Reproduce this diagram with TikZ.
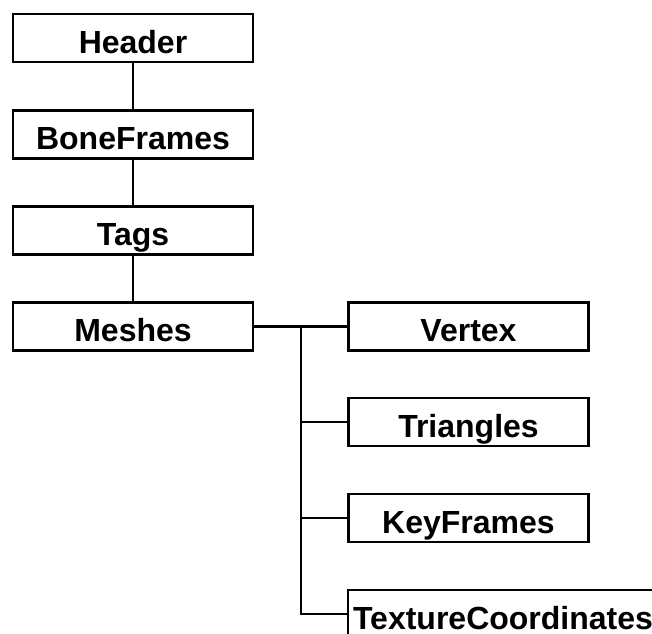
\documentclass[tikz,border=0pt]{standalone}
\usepackage{fontspec}
\setmainfont{Liberation Sans}
\usepackage{tikz}
\usetikzlibrary{positioning}

\begin{document}
\begin{tikzpicture}[x=1pt, y=-1pt, line width=2.4pt,
    chunk/.style={draw, rectangle, minimum width=240pt, minimum height=48pt, inner sep=0pt,
                  text height=30pt, text depth=0pt,
                  font=\fontsize{32}{38}\selectfont\bfseries}]
    \useasboundingbox (0,0) rectangle (652,633);
    \clip (0,0) rectangle (652,633);

    \node[chunk] (header) at (133,38) {Header};
    \node[chunk] (boneframes) at (133,134.5) {BoneFrames};
    \node[chunk] (tags) at (133,230.5) {Tags};
    \node[chunk] (meshes) at (133,326.5) {Meshes};

    \node[chunk] (vertex) at (468.5,326.5) {Vertex};
    \node[chunk] (triangles) at (468.5,422) {Triangles};
    \node[chunk] (keyframes) at (468.5,518) {KeyFrames};
    \node[chunk, minimum width=310pt] (texture) at (503,614) {TextureCoordinates};

    \draw (header) -- (boneframes);
    \draw (boneframes) -- (tags);
    \draw (tags) -- (meshes);

    \coordinate (split) at (301,326.5);
    \draw (meshes.east) -- (vertex.west);
    \draw (split) |- (texture.west);
    \draw (split |- triangles.west) -- (triangles.west);
    \draw (split |- keyframes.west) -- (keyframes.west);
\end{tikzpicture}
\end{document}
